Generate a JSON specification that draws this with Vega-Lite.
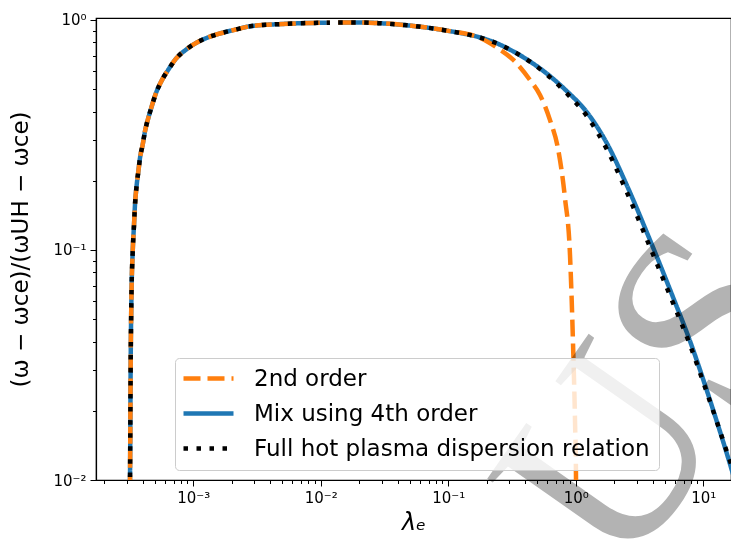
{
  "$schema": "https://vega.github.io/schema/vega-lite/v6.json",
  "width": 635,
  "height": 462,
  "autosize": "none",
  "padding": {"left": 96, "top": 18, "right": 0, "bottom": 62},
  "background": "white",
  "view": {"stroke": "black", "strokeWidth": 1.2},
  "config": {
    "font": "DejaVu Sans",
    "axis": {
      "domainColor": "black",
      "domainWidth": 1.2,
      "tickColor": "black",
      "tickWidth": 1,
      "labelColor": "black",
      "labelFont": "DejaVu Sans",
      "labelFontSize": 15,
      "titleColor": "black",
      "titleFont": "DejaVu Sans",
      "titleFontWeight": "normal",
      "grid": false,
      "labelOverlap": false,
      "labelFlush": false,
      "labelBound": false
    }
  },
  "datasets": {
    "curves": [
      {"s": "Mix using 4th order", "g": 1, "lam": 3.17e-4, "v": 0.007},
      {"s": "Mix using 4th order", "g": 1, "lam": 3.19e-4, "v": 0.010},
      {"s": "Mix using 4th order", "g": 1, "lam": 3.23e-4, "v": 0.0332},
      {"s": "Mix using 4th order", "g": 1, "lam": 3.27e-4, "v": 0.0606},
      {"s": "Mix using 4th order", "g": 1, "lam": 3.35e-4, "v": 0.0987},
      {"s": "Mix using 4th order", "g": 1, "lam": 3.43e-4, "v": 0.129},
      {"s": "Mix using 4th order", "g": 1, "lam": 3.49e-4, "v": 0.157},
      {"s": "Mix using 4th order", "g": 1, "lam": 3.60e-4, "v": 0.192},
      {"s": "Mix using 4th order", "g": 1, "lam": 3.71e-4, "v": 0.220},
      {"s": "Mix using 4th order", "g": 1, "lam": 3.82e-4, "v": 0.251},
      {"s": "Mix using 4th order", "g": 1, "lam": 4.01e-4, "v": 0.287},
      {"s": "Mix using 4th order", "g": 1, "lam": 4.18e-4, "v": 0.328},
      {"s": "Mix using 4th order", "g": 1, "lam": 4.44e-4, "v": 0.375},
      {"s": "Mix using 4th order", "g": 1, "lam": 4.72e-4, "v": 0.421},
      {"s": "Mix using 4th order", "g": 1, "lam": 5.10e-4, "v": 0.481},
      {"s": "Mix using 4th order", "g": 1, "lam": 5.65e-4, "v": 0.545},
      {"s": "Mix using 4th order", "g": 1, "lam": 6.37e-4, "v": 0.608},
      {"s": "Mix using 4th order", "g": 1, "lam": 7.32e-4, "v": 0.679},
      {"s": "Mix using 4th order", "g": 1, "lam": 8.77e-4, "v": 0.743},
      {"s": "Mix using 4th order", "g": 1, "lam": 1.075e-3, "v": 0.800},
      {"s": "Mix using 4th order", "g": 1, "lam": 1.335e-3, "v": 0.844},
      {"s": "Mix using 4th order", "g": 1, "lam": 1.671e-3, "v": 0.878},
      {"s": "Mix using 4th order", "g": 1, "lam": 2.124e-3, "v": 0.907},
      {"s": "Mix using 4th order", "g": 1, "lam": 2.786e-3, "v": 0.939},
      {"s": "Mix using 4th order", "g": 1, "lam": 5.06e-3, "v": 0.961},
      {"s": "Mix using 4th order", "g": 1, "lam": 9.86e-3, "v": 0.972},
      {"s": "Mix using 4th order", "g": 1, "lam": 0.0118, "v": 0.973},
      {"s": "Mix using 4th order", "g": 2, "lam": 0.0137, "v": 0.976},
      {"s": "Mix using 4th order", "g": 2, "lam": 0.020, "v": 0.976},
      {"s": "Mix using 4th order", "g": 2, "lam": 0.0291, "v": 0.968},
      {"s": "Mix using 4th order", "g": 2, "lam": 0.0532, "v": 0.942},
      {"s": "Mix using 4th order", "g": 2, "lam": 0.0973, "v": 0.899},
      {"s": "Mix using 4th order", "g": 2, "lam": 0.1775, "v": 0.839},
      {"s": "Mix using 4th order", "g": 2, "lam": 0.2399, "v": 0.792},
      {"s": "Mix using 4th order", "g": 2, "lam": 0.3236, "v": 0.730},
      {"s": "Mix using 4th order", "g": 2, "lam": 0.4375, "v": 0.660},
      {"s": "Mix using 4th order", "g": 2, "lam": 0.5916, "v": 0.585},
      {"s": "Mix using 4th order", "g": 2, "lam": 0.8488, "v": 0.491},
      {"s": "Mix using 4th order", "g": 2, "lam": 1.218, "v": 0.398},
      {"s": "Mix using 4th order", "g": 2, "lam": 1.748, "v": 0.292},
      {"s": "Mix using 4th order", "g": 2, "lam": 2.508, "v": 0.1917},
      {"s": "Mix using 4th order", "g": 2, "lam": 3.820, "v": 0.1105},
      {"s": "Mix using 4th order", "g": 2, "lam": 5.820, "v": 0.0619},
      {"s": "Mix using 4th order", "g": 2, "lam": 7.867, "v": 0.0402},
      {"s": "Mix using 4th order", "g": 2, "lam": 10.64, "v": 0.0246},
      {"s": "Mix using 4th order", "g": 2, "lam": 12.74, "v": 0.01805},
      {"s": "Mix using 4th order", "g": 2, "lam": 16.20, "v": 0.01174},
      {"s": "Mix using 4th order", "g": 2, "lam": 17.74, "v": 0.0099},

      {"s": "2nd order", "g": 1, "lam": 3.17e-4, "v": 0.007},
      {"s": "2nd order", "g": 1, "lam": 3.19e-4, "v": 0.010},
      {"s": "2nd order", "g": 1, "lam": 3.23e-4, "v": 0.0332},
      {"s": "2nd order", "g": 1, "lam": 3.27e-4, "v": 0.0606},
      {"s": "2nd order", "g": 1, "lam": 3.35e-4, "v": 0.0987},
      {"s": "2nd order", "g": 1, "lam": 3.43e-4, "v": 0.129},
      {"s": "2nd order", "g": 1, "lam": 3.49e-4, "v": 0.157},
      {"s": "2nd order", "g": 1, "lam": 3.60e-4, "v": 0.192},
      {"s": "2nd order", "g": 1, "lam": 3.71e-4, "v": 0.220},
      {"s": "2nd order", "g": 1, "lam": 3.82e-4, "v": 0.251},
      {"s": "2nd order", "g": 1, "lam": 4.01e-4, "v": 0.287},
      {"s": "2nd order", "g": 1, "lam": 4.18e-4, "v": 0.328},
      {"s": "2nd order", "g": 1, "lam": 4.44e-4, "v": 0.375},
      {"s": "2nd order", "g": 1, "lam": 4.72e-4, "v": 0.421},
      {"s": "2nd order", "g": 1, "lam": 5.10e-4, "v": 0.481},
      {"s": "2nd order", "g": 1, "lam": 5.65e-4, "v": 0.545},
      {"s": "2nd order", "g": 1, "lam": 6.37e-4, "v": 0.608},
      {"s": "2nd order", "g": 1, "lam": 7.32e-4, "v": 0.679},
      {"s": "2nd order", "g": 1, "lam": 8.77e-4, "v": 0.743},
      {"s": "2nd order", "g": 1, "lam": 1.075e-3, "v": 0.800},
      {"s": "2nd order", "g": 1, "lam": 1.335e-3, "v": 0.844},
      {"s": "2nd order", "g": 1, "lam": 1.671e-3, "v": 0.878},
      {"s": "2nd order", "g": 1, "lam": 2.124e-3, "v": 0.907},
      {"s": "2nd order", "g": 1, "lam": 2.786e-3, "v": 0.939},
      {"s": "2nd order", "g": 1, "lam": 5.06e-3, "v": 0.961},
      {"s": "2nd order", "g": 1, "lam": 9.86e-3, "v": 0.972},
      {"s": "2nd order", "g": 1, "lam": 0.0118, "v": 0.973},
      {"s": "2nd order", "g": 2, "lam": 0.0137, "v": 0.976},
      {"s": "2nd order", "g": 2, "lam": 0.020, "v": 0.976},
      {"s": "2nd order", "g": 2, "lam": 0.0291, "v": 0.968},
      {"s": "2nd order", "g": 2, "lam": 0.0532, "v": 0.942},
      {"s": "2nd order", "g": 2, "lam": 0.0973, "v": 0.899},
      {"s": "2nd order", "g": 2, "lam": 0.1775, "v": 0.835},
      {"s": "2nd order", "g": 2, "lam": 0.2399, "v": 0.759},
      {"s": "2nd order", "g": 2, "lam": 0.3236, "v": 0.670},
      {"s": "2nd order", "g": 2, "lam": 0.4375, "v": 0.548},
      {"s": "2nd order", "g": 2, "lam": 0.524, "v": 0.472},
      {"s": "2nd order", "g": 2, "lam": 0.628, "v": 0.367},
      {"s": "2nd order", "g": 2, "lam": 0.729, "v": 0.272},
      {"s": "2nd order", "g": 2, "lam": 0.823, "v": 0.168},
      {"s": "2nd order", "g": 2, "lam": 0.901, "v": 0.0951},
      {"s": "2nd order", "g": 2, "lam": 0.929, "v": 0.0606},
      {"s": "2nd order", "g": 2, "lam": 0.956, "v": 0.0357},
      {"s": "2nd order", "g": 2, "lam": 0.986, "v": 0.0182},
      {"s": "2nd order", "g": 2, "lam": 1.004, "v": 0.0103},
      {"s": "2nd order", "g": 2, "lam": 1.008, "v": 0.006},

      {"s": "Full hot plasma dispersion relation", "g": 1, "lam": 3.17e-4, "v": 0.007},
      {"s": "Full hot plasma dispersion relation", "g": 1, "lam": 3.19e-4, "v": 0.010},
      {"s": "Full hot plasma dispersion relation", "g": 1, "lam": 3.23e-4, "v": 0.0332},
      {"s": "Full hot plasma dispersion relation", "g": 1, "lam": 3.27e-4, "v": 0.0606},
      {"s": "Full hot plasma dispersion relation", "g": 1, "lam": 3.35e-4, "v": 0.0987},
      {"s": "Full hot plasma dispersion relation", "g": 1, "lam": 3.43e-4, "v": 0.129},
      {"s": "Full hot plasma dispersion relation", "g": 1, "lam": 3.49e-4, "v": 0.157},
      {"s": "Full hot plasma dispersion relation", "g": 1, "lam": 3.60e-4, "v": 0.192},
      {"s": "Full hot plasma dispersion relation", "g": 1, "lam": 3.71e-4, "v": 0.220},
      {"s": "Full hot plasma dispersion relation", "g": 1, "lam": 3.82e-4, "v": 0.251},
      {"s": "Full hot plasma dispersion relation", "g": 1, "lam": 4.01e-4, "v": 0.287},
      {"s": "Full hot plasma dispersion relation", "g": 1, "lam": 4.18e-4, "v": 0.328},
      {"s": "Full hot plasma dispersion relation", "g": 1, "lam": 4.44e-4, "v": 0.375},
      {"s": "Full hot plasma dispersion relation", "g": 1, "lam": 4.72e-4, "v": 0.421},
      {"s": "Full hot plasma dispersion relation", "g": 1, "lam": 5.10e-4, "v": 0.481},
      {"s": "Full hot plasma dispersion relation", "g": 1, "lam": 5.65e-4, "v": 0.545},
      {"s": "Full hot plasma dispersion relation", "g": 1, "lam": 6.37e-4, "v": 0.608},
      {"s": "Full hot plasma dispersion relation", "g": 1, "lam": 7.32e-4, "v": 0.679},
      {"s": "Full hot plasma dispersion relation", "g": 1, "lam": 8.77e-4, "v": 0.743},
      {"s": "Full hot plasma dispersion relation", "g": 1, "lam": 1.075e-3, "v": 0.800},
      {"s": "Full hot plasma dispersion relation", "g": 1, "lam": 1.335e-3, "v": 0.844},
      {"s": "Full hot plasma dispersion relation", "g": 1, "lam": 1.671e-3, "v": 0.878},
      {"s": "Full hot plasma dispersion relation", "g": 1, "lam": 2.124e-3, "v": 0.907},
      {"s": "Full hot plasma dispersion relation", "g": 1, "lam": 2.786e-3, "v": 0.939},
      {"s": "Full hot plasma dispersion relation", "g": 1, "lam": 5.06e-3, "v": 0.961},
      {"s": "Full hot plasma dispersion relation", "g": 1, "lam": 9.86e-3, "v": 0.972},
      {"s": "Full hot plasma dispersion relation", "g": 1, "lam": 0.0118, "v": 0.973},
      {"s": "Full hot plasma dispersion relation", "g": 2, "lam": 0.0137, "v": 0.976},
      {"s": "Full hot plasma dispersion relation", "g": 2, "lam": 0.020, "v": 0.976},
      {"s": "Full hot plasma dispersion relation", "g": 2, "lam": 0.0291, "v": 0.968},
      {"s": "Full hot plasma dispersion relation", "g": 2, "lam": 0.0532, "v": 0.942},
      {"s": "Full hot plasma dispersion relation", "g": 2, "lam": 0.0973, "v": 0.899},
      {"s": "Full hot plasma dispersion relation", "g": 2, "lam": 0.1775, "v": 0.839},
      {"s": "Full hot plasma dispersion relation", "g": 2, "lam": 0.2399, "v": 0.792},
      {"s": "Full hot plasma dispersion relation", "g": 2, "lam": 0.3236, "v": 0.730},
      {"s": "Full hot plasma dispersion relation", "g": 2, "lam": 0.4375, "v": 0.659},
      {"s": "Full hot plasma dispersion relation", "g": 2, "lam": 0.5916, "v": 0.580},
      {"s": "Full hot plasma dispersion relation", "g": 2, "lam": 0.8488, "v": 0.480},
      {"s": "Full hot plasma dispersion relation", "g": 2, "lam": 1.218, "v": 0.383},
      {"s": "Full hot plasma dispersion relation", "g": 2, "lam": 1.748, "v": 0.275},
      {"s": "Full hot plasma dispersion relation", "g": 2, "lam": 2.508, "v": 0.179},
      {"s": "Full hot plasma dispersion relation", "g": 2, "lam": 3.820, "v": 0.103},
      {"s": "Full hot plasma dispersion relation", "g": 2, "lam": 5.820, "v": 0.0585},
      {"s": "Full hot plasma dispersion relation", "g": 2, "lam": 7.867, "v": 0.0387},
      {"s": "Full hot plasma dispersion relation", "g": 2, "lam": 10.64, "v": 0.0241},
      {"s": "Full hot plasma dispersion relation", "g": 2, "lam": 12.74, "v": 0.0180},
      {"s": "Full hot plasma dispersion relation", "g": 2, "lam": 16.20, "v": 0.0121},
      {"s": "Full hot plasma dispersion relation", "g": 2, "lam": 17.74, "v": 0.0105}
    ],
    "stamp": [
      {"lam": 4.18, "v": 0.0223, "t": "US"}
    ]
  },
  "layer": [
    {
      "data": {"name": "curves"},
      "encoding": {
        "x": {
          "field": "lam",
          "type": "quantitative",
          "scale": {"type": "log", "domain": [1.726e-4, 16.5], "nice": false},
          "axis": {
            "title": "λₑ",
            "titleFontSize": 24,
            "titleFontStyle": "italic",
            "titlePadding": 5,
            "values": [2e-4, 3e-4, 4e-4, 5e-4, 6e-4, 7e-4, 8e-4, 9e-4, 1e-3, 2e-3, 3e-3, 4e-3, 5e-3, 6e-3, 7e-3, 8e-3, 9e-3, 1e-2, 2e-2, 3e-2, 4e-2, 5e-2, 6e-2, 7e-2, 8e-2, 9e-2, 0.1, 0.2, 0.3, 0.4, 0.5, 0.6, 0.7, 0.8, 0.9, 1, 2, 3, 4, 5, 6, 7, 8, 9, 10],
            "labelExpr": "abs(log(datum.value)/LN10 - round(log(datum.value)/LN10)) < 1e-6 ? '10' + replace(replace(replace(replace(replace('' + round(log(datum.value)/LN10), '-', '⁻'), '0', '⁰'), '1', '¹'), '2', '²'), '3', '³') : ''",
            "tickSize": {"condition": {"test": "abs(log(datum.value)/LN10 - round(log(datum.value)/LN10)) < 1e-6", "value": 6}, "value": 3.5},
            "labelPadding": 4
          }
        },
        "y": {
          "field": "v",
          "type": "quantitative",
          "scale": {"type": "log", "domain": [0.01, 1.02], "nice": false},
          "axis": {
            "title": "(ω − ωce)/(ωUH − ωce)",
            "titleFontSize": 23,
            "titlePadding": 20,
            "values": [0.01, 0.02, 0.03, 0.04, 0.05, 0.06, 0.07, 0.08, 0.09, 0.1, 0.2, 0.3, 0.4, 0.5, 0.6, 0.7, 0.8, 0.9, 1],
            "labelExpr": "abs(log(datum.value)/LN10 - round(log(datum.value)/LN10)) < 1e-6 ? '10' + replace(replace(replace(replace(replace('' + round(log(datum.value)/LN10), '-', '⁻'), '0', '⁰'), '1', '¹'), '2', '²'), '3', '³') : ''",
            "tickSize": {"condition": {"test": "abs(log(datum.value)/LN10 - round(log(datum.value)/LN10)) < 1e-6", "value": 6}, "value": 3.5},
            "labelPadding": 4
          }
        },
        "detail": {"field": "g"},
        "color": {
          "field": "s",
          "type": "nominal",
          "scale": {
            "domain": ["2nd order", "Mix using 4th order", "Full hot plasma dispersion relation"],
            "range": ["#ff7f0e", "#1f77b4", "#000000"]
          },
          "legend": {
            "title": null,
            "orient": "none",
            "legendX": 79,
            "legendY": 340,
            "direction": "vertical",
            "labelFont": "DejaVu Sans",
            "labelFontSize": 23,
            "labelColor": "black",
            "labelLimit": 600,
            "symbolType": "M-2.4,0H7.6",
            "symbolSize": 100,
            "symbolStrokeWidth": 4.5,
            "labelOffset": 47,
            "rowPadding": 11,
            "padding": 9,
            "strokeColor": "#cccccc",
            "fillColor": "rgba(255,255,255,0.8)",
            "cornerRadius": 4
          }
        },
        "strokeDash": {
          "field": "s",
          "type": "nominal",
          "scale": {
            "domain": ["2nd order", "Mix using 4th order", "Full hot plasma dispersion relation"],
            "range": [[17, 7], [1, 0], [4.5, 8.5]]
          },
          "legend": {
            "title": null,
            "orient": "none",
            "legendX": 79,
            "legendY": 340,
            "direction": "vertical",
            "labelFont": "DejaVu Sans",
            "labelFontSize": 23,
            "labelColor": "black",
            "labelLimit": 600,
            "symbolType": "M-2.4,0H7.6",
            "symbolSize": 100,
            "symbolStrokeWidth": 4.5,
            "labelOffset": 47,
            "rowPadding": 11,
            "padding": 9,
            "strokeColor": "#cccccc",
            "fillColor": "rgba(255,255,255,0.8)",
            "cornerRadius": 4
          }
        }
      },
      "layer": [
        {
          "transform": [{"filter": "datum.s === 'Mix using 4th order'"}],
          "mark": {"type": "line", "strokeWidth": 4.5, "clip": true, "interpolate": "monotone"}
        },
        {
          "transform": [{"filter": "datum.s === '2nd order'"}],
          "mark": {"type": "line", "strokeWidth": 4.5, "clip": true, "interpolate": "monotone"}
        },
        {
          "transform": [{"filter": "datum.s === 'Full hot plasma dispersion relation'"}],
          "mark": {"type": "line", "strokeWidth": 4.5, "clip": true, "interpolate": "monotone"}
        }
      ]
    },
    {
      "data": {"name": "stamp"},
      "mark": {
        "type": "text",
        "font": "Liberation Serif",
        "fontSize": 260,
        "angle": -55,
        "align": "center",
        "baseline": "middle",
        "fill": "#b3b3b3",
        "blend": "multiply",
        "clip": false
      },
      "encoding": {
        "x": {"field": "lam", "type": "quantitative", "scale": {"type": "log", "domain": [1.726e-4, 16.5], "nice": false}},
        "y": {"field": "v", "type": "quantitative", "scale": {"type": "log", "domain": [0.01, 1.02], "nice": false}},
        "text": {"field": "t"}
      }
    }
  ]
}
